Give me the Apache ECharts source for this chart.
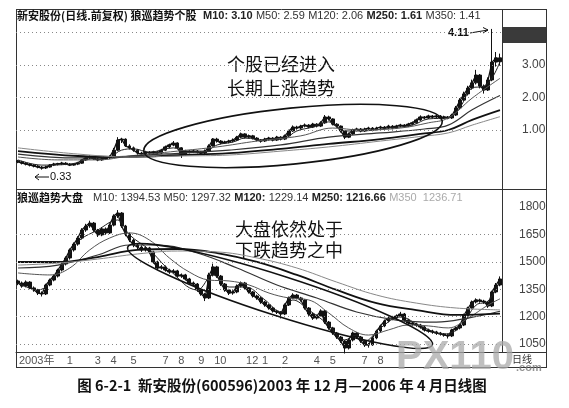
<!DOCTYPE html>
<html><head><meta charset="utf-8">
<script src="https://cdn.jsdelivr.net/npm/echarts@6/dist/echarts.min.js"></script>
<style>html,body{margin:0;padding:0;background:#fff}#c{width:569px;height:408px}</style>
</head><body><div id="c"></div>
<script>
// ---- tick labels / categories ----
const monthTickIdx = [0, 12, 19, 23, 28, 36, 40, 45, 49, 57, 61, 66, 74, 78, 86, 90];
const monthTickLbl = ['2003年','1','3','4','5','7','8','9','10','12','1','2','4','5','7','8'];
const stockTicks = [1, 2, 3, 4];
const stockTickShown = [1, 2, 3];
const indexTicks = [1050, 1200, 1350, 1500, 1650];
const indexTickLabels = [1050, 1200, 1350, 1500, 1650, 1800];
const dividendIdx = [31, 87, 119];

// ---- stock (新安股份) bars: [open, close, low, high] ----
const stockK = [
[0.05,0.02,-0.02,0.08],[0.02,-0.02,-0.06,0.05],[-0.02,-0.05,-0.09,0.01],[-0.05,-0.08,-0.12,-0.02],
[-0.08,-0.11,-0.15,-0.05],[-0.11,-0.14,-0.18,-0.08],[-0.14,-0.17,-0.22,-0.11],[-0.17,-0.14,-0.20,-0.10],
[-0.14,-0.08,-0.16,-0.05],[-0.08,-0.05,-0.11,-0.01],[-0.03,-0.05,-0.09,-0.01],[-0.05,-0.02,-0.08,0.02],
[-0.02,-0.05,-0.08,0.01],[-0.05,-0.08,-0.11,-0.02],[-0.08,-0.05,-0.10,-0.02],[-0.05,-0.02,-0.08,0.02],
[-0.02,0.08,-0.04,0.11],[0.08,0.14,0.05,0.18],[0.14,0.17,0.10,0.22],[0.17,0.11,0.08,0.20],
[0.11,0.08,0.04,0.14],[0.08,0.11,0.05,0.15],[0.11,0.14,0.08,0.18],[0.14,0.17,0.11,0.22],
[0.17,0.38,0.15,0.45],[0.38,0.69,0.35,0.78],[0.69,0.72,0.60,0.76],[0.72,0.51,0.48,0.74],
[0.51,0.45,0.40,0.56],[0.45,0.38,0.33,0.49],[0.38,0.29,0.24,0.41],[0.29,0.26,0.20,0.33],
[0.26,0.32,0.22,0.36],[0.32,0.29,0.24,0.35],[0.29,0.32,0.25,0.36],[0.32,0.29,0.25,0.35],
[0.29,0.38,0.26,0.42],[0.38,0.48,0.35,0.52],[0.48,0.54,0.44,0.58],[0.54,0.60,0.50,0.66],
[0.60,0.45,0.42,0.62],[0.45,0.26,0.14,0.47],[0.26,0.35,0.22,0.39],[0.35,0.32,0.28,0.38],
[0.32,0.35,0.29,0.39],[0.35,0.32,0.28,0.38],[0.32,0.29,0.25,0.35],[0.29,0.35,0.26,0.40],
[0.35,0.51,0.33,0.56],[0.51,0.72,0.49,0.75],[0.72,0.66,0.61,0.76],[0.66,0.60,0.56,0.69],
[0.60,0.63,0.57,0.67],[0.63,0.66,0.59,0.70],[0.66,0.69,0.62,0.74],[0.69,0.78,0.66,0.82],
[0.78,0.88,0.75,0.92],[0.88,0.78,0.74,0.90],[0.78,0.82,0.74,0.86],[0.82,0.75,0.71,0.85],
[0.75,0.69,0.65,0.78],[0.69,0.66,0.61,0.72],[0.66,0.72,0.63,0.76],[0.72,0.75,0.68,0.79],
[0.75,0.69,0.65,0.78],[0.69,0.78,0.66,0.82],[0.78,0.72,0.68,0.81],[0.72,0.82,0.69,0.86],
[0.82,0.97,0.79,1.01],[0.97,1.09,0.94,1.14],[1.09,1.06,1.01,1.13],[1.06,1.12,1.02,1.16],
[1.12,1.15,1.08,1.20],[1.15,1.09,1.05,1.18],[1.09,1.18,1.06,1.22],[1.18,1.12,1.08,1.21],
[1.12,1.22,1.09,1.27],[1.22,1.40,1.19,1.46],[1.40,1.34,1.29,1.44],[1.34,1.18,1.14,1.36],
[1.18,1.12,1.07,1.21],[1.12,0.97,0.92,1.14],[0.97,0.78,0.72,0.99],[0.78,0.88,0.75,0.92],
[0.88,1.00,0.85,1.04],[1.00,1.03,0.96,1.07],[1.03,0.97,0.93,1.06],[0.97,1.03,0.94,1.07],
[1.03,1.06,0.99,1.10],[1.06,1.00,0.96,1.09],[1.00,1.06,0.97,1.10],[1.06,1.09,1.02,1.13],
[1.09,1.06,1.02,1.12],[1.06,1.12,1.03,1.16],[1.12,1.06,1.02,1.15],[1.06,1.12,1.03,1.16],
[1.12,1.15,1.08,1.19],[1.15,1.12,1.08,1.18],[1.12,1.18,1.09,1.22],[1.18,1.22,1.14,1.26],
[1.22,1.31,1.19,1.35],[1.31,1.40,1.28,1.45],[1.40,1.37,1.33,1.43],[1.37,1.43,1.34,1.47],
[1.43,1.40,1.36,1.46],[1.40,1.43,1.37,1.47],[1.43,1.37,1.33,1.46],[1.37,1.40,1.34,1.44],
[1.40,1.37,1.33,1.43],[1.37,1.46,1.34,1.50],[1.46,1.68,1.43,1.74],[1.68,1.92,1.65,1.98],
[1.92,2.11,1.88,2.18],[2.11,2.29,2.06,2.36],[2.29,2.45,2.24,2.55],[2.45,2.69,2.40,2.85],
[2.69,2.35,2.28,2.72],[2.35,2.23,2.12,2.40],[2.23,2.54,2.20,2.62],[2.54,3.09,2.50,4.11],
[3.09,3.22,2.95,3.40],[3.22,3.10,2.98,3.35]
];
// moving averages of the stock: [barIndex, value]
const stockM10 = [[0,0.08],[6,-0.08],[13,-0.05],[18,0.11],[23,0.17],[26,0.38],[29,0.42],[33,0.32],[39,0.45],[42,0.35],[47,0.35],[50,0.54],[54,0.63],[57,0.75],[62,0.69],[67,0.75],[70,0.97],[74,1.09],[78,1.25],[82,0.97],[86,0.97],[93,1.06],[99,1.15],[103,1.34],[108,1.37],[111,1.71],[114,2.29],[117,2.35],[119,2.60],[121,3.10]];
const stockM50 = [[0,0.17],[10,0.08],[20,0.08],[28,0.20],[40,0.35],[50,0.48],[60,0.66],[71,0.82],[79,1.06],[86,1.00],[96,1.06],[103,1.22],[108,1.37],[114,1.98],[121,2.59]];
const stockM120 = [[0,0.26],[15,0.14],[28,0.20],[41,0.29],[53,0.38],[66,0.54],[78,0.78],[91,0.91],[102,1.03],[108,1.15],[114,1.62],[121,2.06]];
const stockM250 = [[0,0.35],[15,0.20],[28,0.17],[41,0.23],[53,0.29],[66,0.42],[78,0.57],[91,0.72],[101,0.88],[108,1.00],[114,1.31],[121,1.61]];
const stockM350 = [[0,0.45],[15,0.26],[28,0.17],[41,0.20],[53,0.23],[66,0.35],[78,0.48],[91,0.66],[101,0.80],[108,0.91],[114,1.15],[121,1.41]];

// ---- market index (大盘) bars: [open, close, low, high] ----
const indexK = [
[1395,1384,1372,1402],[1384,1367,1358,1392],[1367,1389,1360,1398],[1389,1357,1350,1394],
[1357,1346,1336,1365],[1346,1329,1318,1352],[1329,1324,1310,1338],[1324,1373,1318,1380],
[1373,1400,1366,1408],[1400,1422,1393,1430],[1422,1455,1414,1462],[1455,1488,1447,1496],
[1488,1521,1480,1530],[1521,1565,1512,1573],[1565,1597,1556,1606],[1597,1630,1588,1640],
[1630,1674,1622,1684],[1674,1696,1664,1708],[1696,1712,1686,1725],[1712,1674,1664,1718],
[1674,1647,1636,1680],[1647,1680,1640,1690],[1680,1658,1648,1688],[1658,1701,1652,1710],
[1701,1751,1694,1760],[1751,1767,1740,1783],[1767,1696,1686,1772],[1696,1652,1640,1702],
[1652,1619,1608,1660],[1619,1592,1580,1626],[1592,1581,1570,1600],[1581,1565,1554,1590],
[1565,1576,1556,1585],[1576,1554,1544,1582],[1554,1499,1490,1560],[1499,1466,1456,1506],
[1466,1472,1458,1482],[1472,1455,1446,1480],[1455,1444,1434,1462],[1444,1450,1436,1460],
[1450,1422,1414,1456],[1422,1428,1412,1436],[1428,1406,1398,1434],[1406,1384,1376,1412],
[1384,1378,1368,1392],[1378,1346,1336,1384],[1346,1324,1314,1352],[1324,1302,1285,1330],
[1302,1428,1296,1440],[1428,1472,1420,1490],[1472,1422,1412,1478],[1422,1378,1368,1428],
[1378,1346,1336,1384],[1346,1329,1318,1352],[1329,1335,1320,1344],[1335,1367,1328,1376],
[1367,1384,1360,1392],[1384,1357,1348,1390],[1357,1335,1326,1362],[1335,1313,1304,1340],
[1313,1302,1292,1320],[1302,1280,1270,1308],[1280,1264,1254,1286],[1264,1247,1238,1270],
[1247,1231,1222,1254],[1231,1225,1214,1238],[1225,1214,1190,1230],[1214,1264,1208,1272],
[1264,1302,1258,1310],[1302,1318,1296,1328],[1318,1302,1294,1324],[1302,1291,1282,1308],
[1291,1247,1238,1296],[1247,1214,1204,1252],[1214,1192,1182,1220],[1192,1203,1184,1212],
[1203,1231,1198,1240],[1231,1170,1160,1236],[1170,1138,1128,1176],[1138,1110,1100,1144],
[1110,1088,1078,1116],[1088,1066,1056,1094],[1066,1028,998,1072],[1028,1072,1020,1080],
[1072,1110,1064,1118],[1110,1088,1078,1116],[1088,1066,1056,1094],[1066,1045,1034,1072],
[1045,1045,1030,1056],[1045,1083,1040,1090],[1083,1121,1076,1128],[1121,1149,1114,1156],
[1149,1176,1142,1184],[1176,1192,1168,1200],[1192,1192,1180,1204],[1192,1203,1186,1212],
[1203,1214,1196,1226],[1214,1181,1172,1220],[1181,1165,1156,1188],[1165,1160,1150,1172],
[1160,1154,1144,1166],[1154,1143,1134,1160],[1143,1127,1118,1150],[1127,1121,1112,1134],
[1121,1116,1106,1128],[1116,1110,1100,1122],[1110,1105,1096,1116],[1105,1099,1090,1110],
[1099,1094,1080,1104],[1094,1127,1088,1134],[1127,1138,1120,1146],[1138,1154,1130,1162],
[1154,1209,1148,1216],[1209,1247,1202,1254],[1247,1280,1240,1288],[1280,1291,1272,1300],
[1291,1285,1276,1298],[1285,1280,1270,1292],[1280,1258,1248,1286],[1258,1335,1252,1342],
[1335,1373,1328,1384],[1373,1406,1366,1420]
];
const indexM10 = [[0,1384],[5,1346],[10,1444],[15,1608],[20,1674],[25,1729],[28,1647],[33,1565],[38,1455],[45,1346],[49,1428],[53,1362],[57,1362],[62,1291],[66,1225],[69,1291],[73,1236],[78,1154],[82,1072],[85,1099],[87,1066],[91,1138],[96,1198],[101,1149],[107,1105],[111,1143],[115,1263],[118,1285],[121,1394.53]];
const indexM50 = [[0,1439],[8,1428],[13,1466],[18,1565],[23,1630],[28,1658],[33,1619],[38,1521],[43,1444],[48,1400],[53,1395],[58,1373],[63,1329],[68,1302],[73,1291],[78,1220],[83,1138],[88,1099],[93,1127],[98,1154],[103,1149],[108,1138],[113,1192],[118,1263],[121,1297.32]];
const indexM120 = [[0,1466],[10,1482],[20,1537],[28,1592],[35,1592],[45,1548],[55,1466],[65,1373],[75,1302],[85,1225],[95,1181],[105,1170],[113,1192],[121,1229.14]];
const indexM250 = [[0,1499],[10,1499],[20,1526],[30,1565],[40,1570],[50,1548],[60,1499],[70,1428],[80,1346],[90,1274],[100,1236],[110,1209],[121,1216.66]];
const indexM350 = [[0,1482],[10,1493],[20,1515],[30,1543],[40,1559],[50,1554],[60,1521],[70,1466],[80,1389],[90,1318],[100,1274],[110,1247],[121,1236.71]];

// ---- build ----
const N = stockK.length;
const categories = [];
for (let i = 0; i < N; i++) {
  const k = monthTickIdx.indexOf(i);
  categories.push(k >= 0 ? monthTickLbl[k] : '');
}
const NUM = 'Liberation Sans, Arial, sans-serif';
const CJK = 'Noto Sans CJK SC, sans-serif';
const dotted = { color: '#888', type: [1, 3], width: 1 };
const hiddenLine = { color: 'rgba(0,0,0,0)', width: 0 };

function maLine(name, data, xi, color, width) {
  return { name, type: 'line', xAxisIndex: xi, yAxisIndex: xi, data, smooth: 0.4, symbol: 'none',
    lineStyle: { color, width }, silent: true, z: 3 };
}
function closeLine(bars, xi) {
  return { type: 'line', xAxisIndex: xi, yAxisIndex: xi, data: bars.map(b => b[1]), symbol: 'none',
    lineStyle: { color: '#111', width: 1.3 }, silent: true, z: 2 };
}
const kStyle = { color: '#111', color0: '#111', borderColor: '#111', borderColor0: '#111', borderWidth: 1 };

const chart = echarts.init(document.getElementById('c'), null, { renderer: 'canvas' });
const L = 16, R = 502, W = 569;
chart.setOption({
  animation: false,
  backgroundColor: '#fff',
  grid: [
    { left: L, right: W - R, top: 22, height: 165 },
    { left: L, right: W - R, top: 203, height: 149 }
  ],
  xAxis: [
    { type: 'category', gridIndex: 0, data: categories, show: false },
    { type: 'category', gridIndex: 1, data: categories,
      axisLine: { lineStyle: { color: '#333', width: 1 } },
      axisTick: { alignWithLabel: true, length: 13, lineStyle: { color: '#555' },
        interval: (i, v) => v !== '' },
      axisLabel: { interval: (i, v) => v !== '', align: 'left', margin: 3, color: '#555',
        fontSize: 11, fontFamily: NUM + ',' + CJK, padding: [0, 0, 0, 1] } },
    { type: 'category', gridIndex: 1, data: categories, position: 'bottom',
      axisLine: { show: false }, axisLabel: { show: false },
      axisTick: { alignWithLabel: true, length: 3, lineStyle: { color: '#777' },
        interval: (i, v) => i % 2 === 1 && v === '' } }
  ],
  yAxis: [
    { type: 'value', gridIndex: 0, min: -0.754, max: 4.323, show: false },
    { type: 'value', gridIndex: 1, min: 1006.2, max: 1821.9, show: false }
  ],
  series: [
    { type: 'candlestick', xAxisIndex: 0, yAxisIndex: 0, data: stockK, barWidth: 3.4,
      itemStyle: kStyle, silent: true, z: 2,
      markLine: { silent: true, symbol: 'none', animation: false,
        lineStyle: dotted,
        label: { position: 'end', distance: 20, color: '#444', fontSize: 12, fontFamily: NUM,
          formatter: p => stockTickShown.indexOf(p.value) >= 0 ? p.value.toFixed(2) : '' },
        data: stockTicks.map(v => ({ yAxis: v })) } },
    closeLine(stockK, 0),
    maLine('M10', stockM10, 0, '#222', 1),
    maLine('M50', stockM50, 0, '#555', 1),
    maLine('M120', stockM120, 0, '#333', 1.2),
    maLine('M250', stockM250, 0, '#111', 1.8),
    maLine('M350', stockM350, 0, '#888', 1),
    { type: 'scatter', xAxisIndex: 0, yAxisIndex: 0, silent: true, symbolSize: 1,
      itemStyle: { opacity: 0 },
      data: dividendIdx.map(i => [i, -0.63]),
      label: { show: true, position: 'inside', formatter: 'Ŝ', fontSize: 10, fontWeight: 'bold',
        color: '#222', fontFamily: NUM } },
    { type: 'candlestick', xAxisIndex: 1, yAxisIndex: 1, data: indexK, barWidth: 3.4,
      itemStyle: kStyle, silent: true, z: 2,
      markLine: { silent: true, symbol: 'none', animation: false,
        lineStyle: dotted,
        label: { position: 'end', distance: 17, color: '#444', fontSize: 12, fontFamily: NUM,
          formatter: p => String(p.value) },
        data: indexTickLabels.map(v => ({ yAxis: v,
          lineStyle: indexTicks.indexOf(v) >= 0 ? dotted : hiddenLine })) } },
    closeLine(indexK, 1),
    maLine('M10', indexM10, 1, '#222', 1),
    maLine('M50', indexM50, 1, '#555', 1),
    maLine('M120', indexM120, 1, '#333', 1.2),
    maLine('M250', indexM250, 1, '#111', 1.8),
    maLine('M350', indexM350, 1, '#888', 1)
  ],
  graphic: [
    // frame
    { type: 'line', shape: { x1: 16.5, y1: 9, x2: 16.5, y2: 368 }, style: { stroke: '#333', lineWidth: 1 }, silent: true },
    { type: 'line', shape: { x1: 16, y1: 9.5, x2: 547, y2: 9.5 }, style: { stroke: '#333', lineWidth: 1 }, silent: true },
    { type: 'line', shape: { x1: 502.5, y1: 9, x2: 502.5, y2: 352 }, style: { stroke: '#333', lineWidth: 1 }, silent: true },
    { type: 'line', shape: { x1: 546.5, y1: 9, x2: 546.5, y2: 368 }, style: { stroke: '#333', lineWidth: 1 }, silent: true },
    { type: 'line', shape: { x1: 16, y1: 189.5, x2: 547, y2: 189.5 }, style: { stroke: '#333', lineWidth: 1 }, silent: true },
    { type: 'line', shape: { x1: 502, y1: 352.5, x2: 547, y2: 352.5 }, style: { stroke: '#333', lineWidth: 1 }, silent: true },
    { type: 'line', shape: { x1: 16, y1: 367.5, x2: 547, y2: 367.5 }, style: { stroke: '#333', lineWidth: 1 }, silent: true },
    { type: 'rect', shape: { x: 503, y: 27, width: 43, height: 16 }, style: { fill: '#3a3a3a' }, silent: true },
    // titles
    { type: 'text', x: 17, y: 10, silent: true, style: {
      text: '{a|新安股份(日线.前复权) 狼巡趋势个股}  {b|M10: 3.10} {c|M50: 2.59} {c|M120: 2.06} {b|M250: 1.61} {c|M350: 1.41}',
      rich: { a: { fontFamily: CJK, fontSize: 11, fontWeight: 'bold', fill: '#111' },
              b: { fontFamily: NUM, fontSize: 11, fontWeight: 'bold', fill: '#222' },
              c: { fontFamily: NUM, fontSize: 11, fill: '#333' } } } },
    { type: 'text', x: 17, y: 192, silent: true, style: {
      text: '{a|狼巡趋势大盘}   {c|M10: 1394.53} {c|M50: 1297.32} {b|M120:} {c|1229.14} {b|M250: 1216.66} {d|M350  1236.71}',
      rich: { a: { fontFamily: CJK, fontSize: 11, fontWeight: 'bold', fill: '#111' },
              b: { fontFamily: NUM, fontSize: 11, fontWeight: 'bold', fill: '#222' },
              c: { fontFamily: NUM, fontSize: 11, fill: '#333' },
              d: { fontFamily: NUM, fontSize: 11, fill: '#aaa' } } } },
    // annotations
    { type: 'text', x: 281, y: 52, silent: true, style: { text: '个股已经进入\n长期上涨趋势', textAlign: 'center',
      fontFamily: CJK, fontSize: 18, lineHeight: 24, fill: '#111' } },
    { type: 'text', x: 289, y: 219, silent: true, style: { text: '大盘依然处于\n下跌趋势之中', textAlign: 'center',
      fontFamily: CJK, fontSize: 18, lineHeight: 21, fill: '#111' } },
    { type: 'ellipse', x: 293, y: 136, rotation: 0.1, shape: { cx: 0, cy: 0, rx: 150, ry: 28 },
      style: { fill: 'none', stroke: '#111', lineWidth: 1.6 }, silent: true, z: 10 },
    { type: 'ellipse', x: 280, y: 296, rotation: -0.31, shape: { cx: 0, cy: 0, rx: 160, ry: 20 },
      style: { fill: 'none', stroke: '#111', lineWidth: 1.6 }, silent: true, z: 10 },
    // price notes
    { type: 'text', x: 448, y: 27, silent: true, style: { text: '4.11', fontFamily: NUM, fontSize: 11, fontWeight: 'bold', fill: '#111' } },
    { type: 'polyline', shape: { points: [[470, 33], [488, 30]] }, style: { stroke: '#111', lineWidth: 1 }, silent: true },
    { type: 'polyline', shape: { points: [[483, 27.5], [488, 30], [483, 33]] }, style: { stroke: '#111', fill: 'none', lineWidth: 1 }, silent: true },
    { type: 'text', x: 50, y: 171, silent: true, style: { text: '0.33', fontFamily: NUM, fontSize: 11, fill: '#111' } },
    { type: 'polyline', shape: { points: [[35, 177], [49, 177]] }, style: { stroke: '#111', lineWidth: 1 }, silent: true },
    { type: 'polyline', shape: { points: [[39, 174], [35, 177], [39, 180]] }, style: { stroke: '#111', fill: 'none', lineWidth: 1 }, silent: true },
    { type: 'text', x: 512, y: 354, silent: true, style: { text: '日线', fontFamily: CJK, fontSize: 10, fill: '#333' } },
    // scan watermark
    { type: 'text', x: 396, y: 338, silent: true, z: 20, style: { text: 'PX110', fontFamily: NUM, fontSize: 40,
      fontWeight: 'bold', fill: 'rgba(170,170,170,0.75)' } },
    { type: 'text', x: 516, y: 362, silent: true, z: 20, style: { text: '.com', fontFamily: NUM, fontSize: 11,
      fontWeight: 'bold', fill: 'rgba(120,120,120,0.8)' } },
    // caption
    { type: 'text', x: 282, y: 378, silent: true, style: { text: '图 6-2-1  新安股份(600596)2003 年 12 月—2006 年 4 月日线图',
      textAlign: 'center', fontFamily: CJK, fontSize: 14.5, fontWeight: 'bold', fill: '#111' } }
  ]
});
</script></body></html>
